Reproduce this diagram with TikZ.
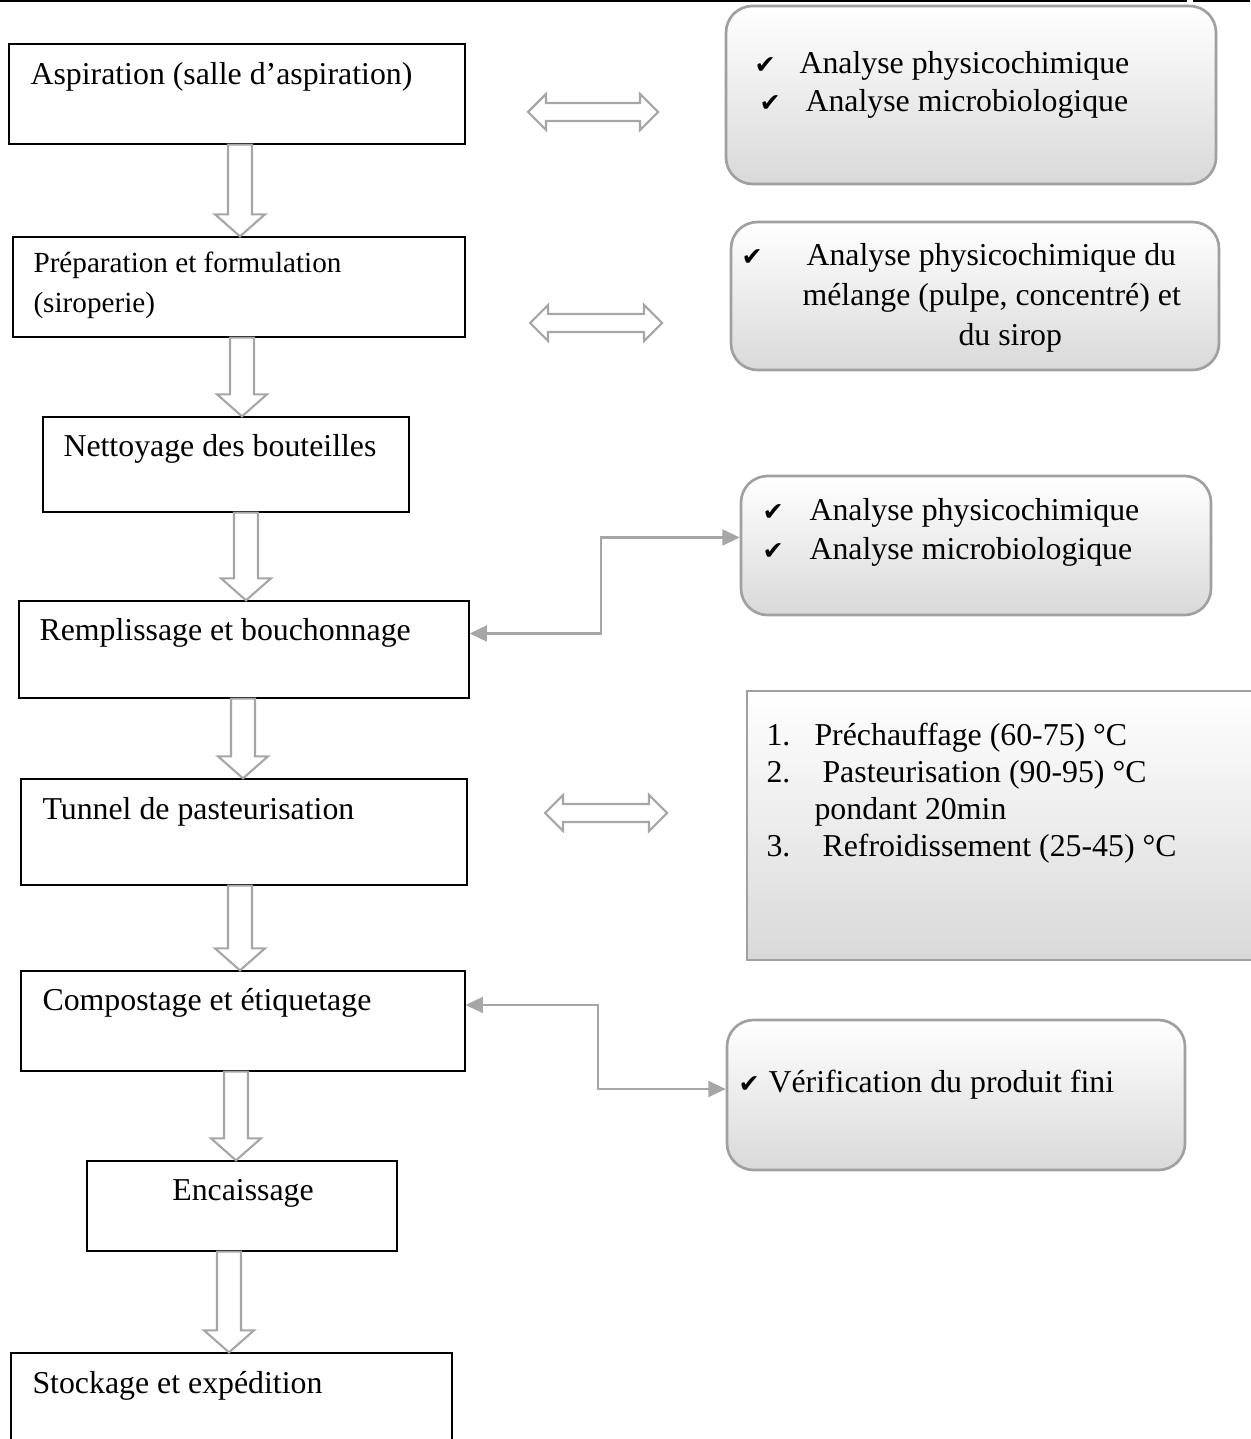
\documentclass[tikz,border=0pt]{standalone}
\usepackage{fontspec}
\setmainfont{Liberation Serif}
\newfontfamily\symfont{DejaVu Sans}
\usetikzlibrary{arrows.meta,calc,fit}

\definecolor{arrowgray}{HTML}{A6A6A6}
\definecolor{rimgray}{HTML}{A0A0A0}

\tikzset{
  stepbox/.style={draw=black,line width=0.5pt,inner sep=0pt},
  notebox/.style={draw=rimgray,line width=1pt,inner sep=0pt,
     top color=white,bottom color=black!15,rounded corners=10pt},
  listbox/.style={notebox,sharp corners},
  txt/.style={anchor=base west,inner sep=0pt,font=\fontsize{12}{14}\selectfont},
  smalltxt/.style={txt,font=\fontsize{11}{13}\selectfont},
  tick/.style={anchor=base west,inner sep=0pt,font=\symfont\fontsize{9.5}{12}\selectfont},
  hollow/.style={draw=arrowgray,line width=0.8pt,fill=white,line join=miter},
  link/.style={draw=arrowgray,line width=0.8pt,
     {Triangle[length=6.5pt,width=6pt]}-{Triangle[length=6.5pt,width=6pt]}},
}

% hollow arrow going down: x of the shaft, from node, to node
\newcommand{\flowdown}[3]{%
  \draw[hollow] ({#1-12},0 |- #2.south)
     -- ($({#1-12},0 |- #3.north)+(0,-22)$) -- ($({#1-25},0 |- #3.north)+(0,-22)$)
     -- (#1,0 |- #3.north)
     -- ($({#1+25},0 |- #3.north)+(0,-22)$) -- ($({#1+12},0 |- #3.north)+(0,-22)$)
     -- ({#1+12},0 |- #2.south) -- cycle;}

% hollow double arrow: left tip, right tip, height
\newcommand{\twoway}[3]{%
  \draw[hollow] (#1,#3) -- ({#1+18},{#3-18}) -- ({#1+18},{#3-9}) -- ({#2-18},{#3-9})
     -- ({#2-18},{#3-18}) -- (#2,#3) -- ({#2-18},{#3+18}) -- ({#2-18},{#3+9})
     -- ({#1+18},{#3+9}) -- ({#1+18},{#3+18}) -- cycle;}

\begin{document}
\begin{tikzpicture}[x=0.377pt,y=-0.377pt]
\useasboundingbox (0,0) rectangle (1250,1439);

% header rule
\draw[line width=0.8pt] (0,1) -- (1187,1);
\draw[line width=0.8pt] (1193,1) -- (1250,1);

% process steps
\node[stepbox,fit={(9,44) (465,144)}] (asp) {};
\node[stepbox,fit={(13,237) (465,337)}] (prep) {};
\node[stepbox,fit={(43,417) (409,512)}] (nett) {};
\node[stepbox,fit={(19,601) (469,698)}] (rempl) {};
\node[stepbox,fit={(21,779) (467,885)}] (tunnel) {};
\node[stepbox,fit={(21,971) (465,1071)}] (comp) {};
\node[stepbox,fit={(87,1161) (397,1251)}] (encais) {};
\node[stepbox,fit={(11,1353) (452,1470)}] (stock) {};

\node[txt] (asp-t) at (30,85) {Aspiration (salle d’aspiration)};
\node[smalltxt] (prep-t1) at (33,273) {Préparation et formulation};
\node[smalltxt] (prep-t2) at (33,313) {(siroperie)};
\node[txt] (nett-t) at (63,457) {Nettoyage des bouteilles};
\node[txt] (rempl-t) at (39,640) {Remplissage et bouchonnage};
\node[txt] (tunnel-t) at (42,819) {Tunnel de pasteurisation};
\node[txt] (comp-t) at (42,1010) {Compostage et étiquetage};
\node[txt,anchor=base] (encais-t) at (243,1200) {Encaissage};
\node[txt] (stock-t) at (32,1393) {Stockage et expédition};

\flowdown{240}{asp}{prep}
\flowdown{242}{prep}{nett}
\flowdown{246}{nett}{rempl}
\flowdown{243}{rempl}{tunnel}
\flowdown{240}{tunnel}{comp}
\flowdown{236}{comp}{encais}
\flowdown{229}{encais}{stock}

% controls
\node[notebox,fit={(726,6) (1216,184)}] (ctrl1) {};
\node[tick] (ctrl1-c1) at (754,74) {✔};
\node[txt] (ctrl1-t1) at (799,74) {Analyse physicochimique};
\node[tick] (ctrl1-c2) at (759,112) {✔};
\node[txt] (ctrl1-t2) at (805,112) {Analyse microbiologique};

\node[notebox,fit={(731,222) (1219,370)}] (ctrl2) {};
\node[tick] (ctrl2-c1) at (741,266) {✔};
\node[txt] (ctrl2-t1) at (806,266) {Analyse physicochimique du};
\node[txt] (ctrl2-t2) at (802,306) {mélange (pulpe, concentré) et};
\node[txt] (ctrl2-t3) at (958,346) {du sirop};

\node[notebox,fit={(741,476) (1211,615)}] (ctrl3) {};
\node[tick] (ctrl3-c1) at (762,521) {✔};
\node[txt] (ctrl3-t1) at (809,521) {Analyse physicochimique};
\node[tick] (ctrl3-c2) at (762,560) {✔};
\node[txt] (ctrl3-t2) at (809,560) {Analyse microbiologique};

\node[listbox,fit={(747,691) (1275,960)}] (heat) {};
\node[txt] (heat-n1) at (766,745) {1.};
\node[txt] (heat-t1) at (814,745) {Préchauffage (60-75) °C};
\node[txt] (heat-n2) at (766,782) {2.};
\node[txt] (heat-t2) at (822,782) {Pasteurisation (90-95) °C};
\node[txt] (heat-t3) at (814,819) {pondant 20min};
\node[txt] (heat-n3) at (766,856) {3.};
\node[txt] (heat-t4) at (822,856) {Refroidissement (25-45) °C};

\node[notebox,fit={(727,1020) (1185,1170)}] (verif) {};
\node[tick] (verif-c) at (738,1092) {✔};
\node[txt] (verif-t) at (768,1092) {Vérification du produit fini};

% links
\twoway{528}{658}{112}
\twoway{530}{662}{323}
\twoway{545}{667}{813}

\draw[link] ($(rempl.east)+(0,-16)$) -- ++(131,0) |- ($(ctrl3.west)+(0,-8)$);
\draw[link] ($(comp.east)+(0,-16)$) -- ++(132,0) |- ($(verif.west)+(0,-6)$);
\end{tikzpicture}
\end{document}
